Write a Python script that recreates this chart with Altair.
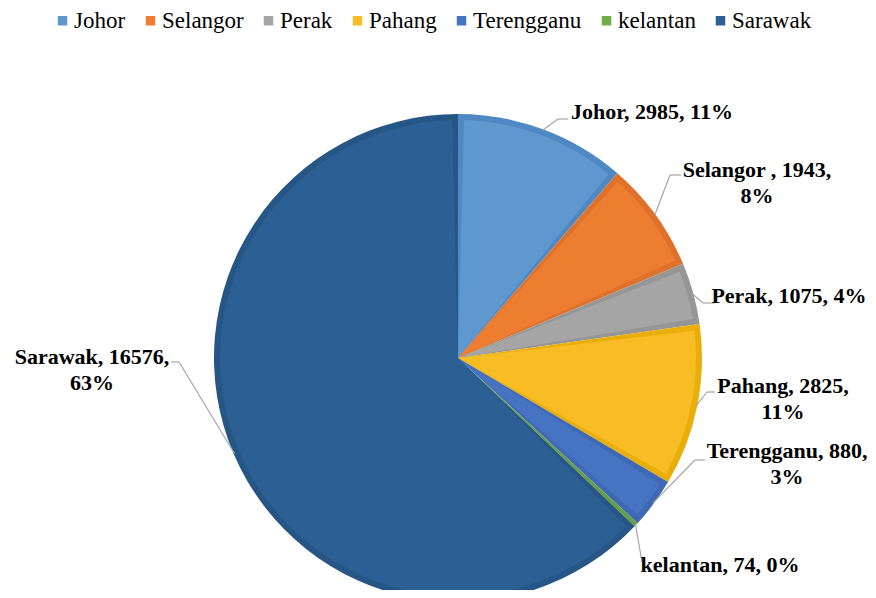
import math
import altair as alt
import pandas as pd

# ---- data ----
names = ["Johor", "Selangor", "Perak", "Pahang", "Terengganu", "kelantan", "Sarawak"]
values = [2985, 1943, 1075, 2825, 880, 74, 16576]
label_line1 = ["Johor, 2985, 11%", "Selangor , 1943,", "Perak, 1075, 4%", "Pahang, 2825,",
               "Terengganu, 880,", "kelantan, 74, 0%", "Sarawak, 16576,"]
label_line2 = ["", "8%", "", "11%", "3%", "", "63%"]

# ---- styles ----
fill_colors = ["#5F98CF", "#ED7D31", "#A5A5A5", "#F8BC24", "#4674C3", "#70AD47", "#2C5F93"]
band_colors = ["#4E89C4", "#DE722A", "#969696", "#EAAE0A", "#3F69B4", "#65A03F", "#265686"]
SERIF = "Liberation Serif"

# ---- layout (chart pixel coordinates) ----
CX, CY, R = 450, 350, 244
BAND = 6
label_pos = [(644, 104), (749, 162), (781, 288), (775, 378), (779, 443), (712, 557), (84, 349)]
LINE_H = 26
leader_elbow = [(550, 111), (662, 167), (695, 295), (699, 384), (687, 452), (634, 554), (171, 354)]
leader_end = [(560, 111), (673, 167), (707, 295), (707, 384), (697, 452), (634, 554), (163, 354)]

df = pd.DataFrame({"idx": range(len(names)), "name": names, "value": values,
                   "band": band_colors})

total = sum(values)
seg_rows = []
text_rows = []
cum = 0.0
for i, v in enumerate(values):
    mid = 2 * math.pi * (cum + v / 2) / total
    cum += v
    ax = CX + (R - 1) * math.sin(mid)
    ay = CY - (R - 1) * math.cos(mid)
    ex, ey = leader_elbow[i]
    tx, ty = leader_end[i]
    seg_rows.append({"x": ax, "y": ay, "x2": ex, "y2": ey})
    seg_rows.append({"x": ex, "y": ey, "x2": tx, "y2": ty})
    lx, ly = label_pos[i]
    text_rows.append({"x": lx, "y": ly, "t": label_line1[i]})
    if label_line2[i]:
        text_rows.append({"x": lx, "y": ly + LINE_H, "t": label_line2[i]})

seg_df = pd.DataFrame(seg_rows)
text_df = pd.DataFrame(text_rows)

outer = alt.Chart(df).mark_arc(radius=R, strokeWidth=0).encode(
    theta=alt.Theta("value:Q", stack=True),
    order=alt.Order("idx:Q"),
    fill=alt.Fill("band:N", scale=None, legend=None),
    x=alt.value(CX), y=alt.value(CY),
)

inner = alt.Chart(df).mark_arc(radius=R - BAND, padAngle=0.05, strokeWidth=0).encode(
    theta=alt.Theta("value:Q", stack=True),
    order=alt.Order("idx:Q"),
    color=alt.Color("name:N", sort=None,
                    scale=alt.Scale(domain=names, range=fill_colors),
                    legend=alt.Legend(title=None, orient="none", direction="horizontal",
                                      legendX=43, legendY=1, labelFont=SERIF)),
    x=alt.value(CX), y=alt.value(CY),
)

leaders = alt.Chart(seg_df).mark_rule(color="#A6A6A6", strokeWidth=1.2).encode(
    x=alt.X("x:Q", scale=None, axis=None),
    y=alt.Y("y:Q", scale=None, axis=None),
    x2="x2:Q", y2="y2:Q",
)

texts = alt.Chart(text_df).mark_text(font=SERIF, fontSize=22, fontWeight="bold",
                                     color="#000000", align="center", baseline="middle").encode(
    x=alt.X("x:Q", scale=None, axis=None),
    y=alt.Y("y:Q", scale=None, axis=None),
    text="t:N",
)

chart = alt.layer(outer, inner, leaders, texts).properties(
    width=860, height=582, padding=0,
    autosize=alt.AutoSizeParams(type="none"),
).configure(font=SERIF).configure_view(stroke=None).configure_legend(
    padding=0, symbolType="square", symbolSize=90, symbolStrokeWidth=0,
    labelOffset=0, columnPadding=13, labelFont=SERIF, labelFontSize=23,
    labelColor="#000000", labelLimit=0,
)

chart.save("out.html", embed_options={"renderer": "svg", "actions": False})
